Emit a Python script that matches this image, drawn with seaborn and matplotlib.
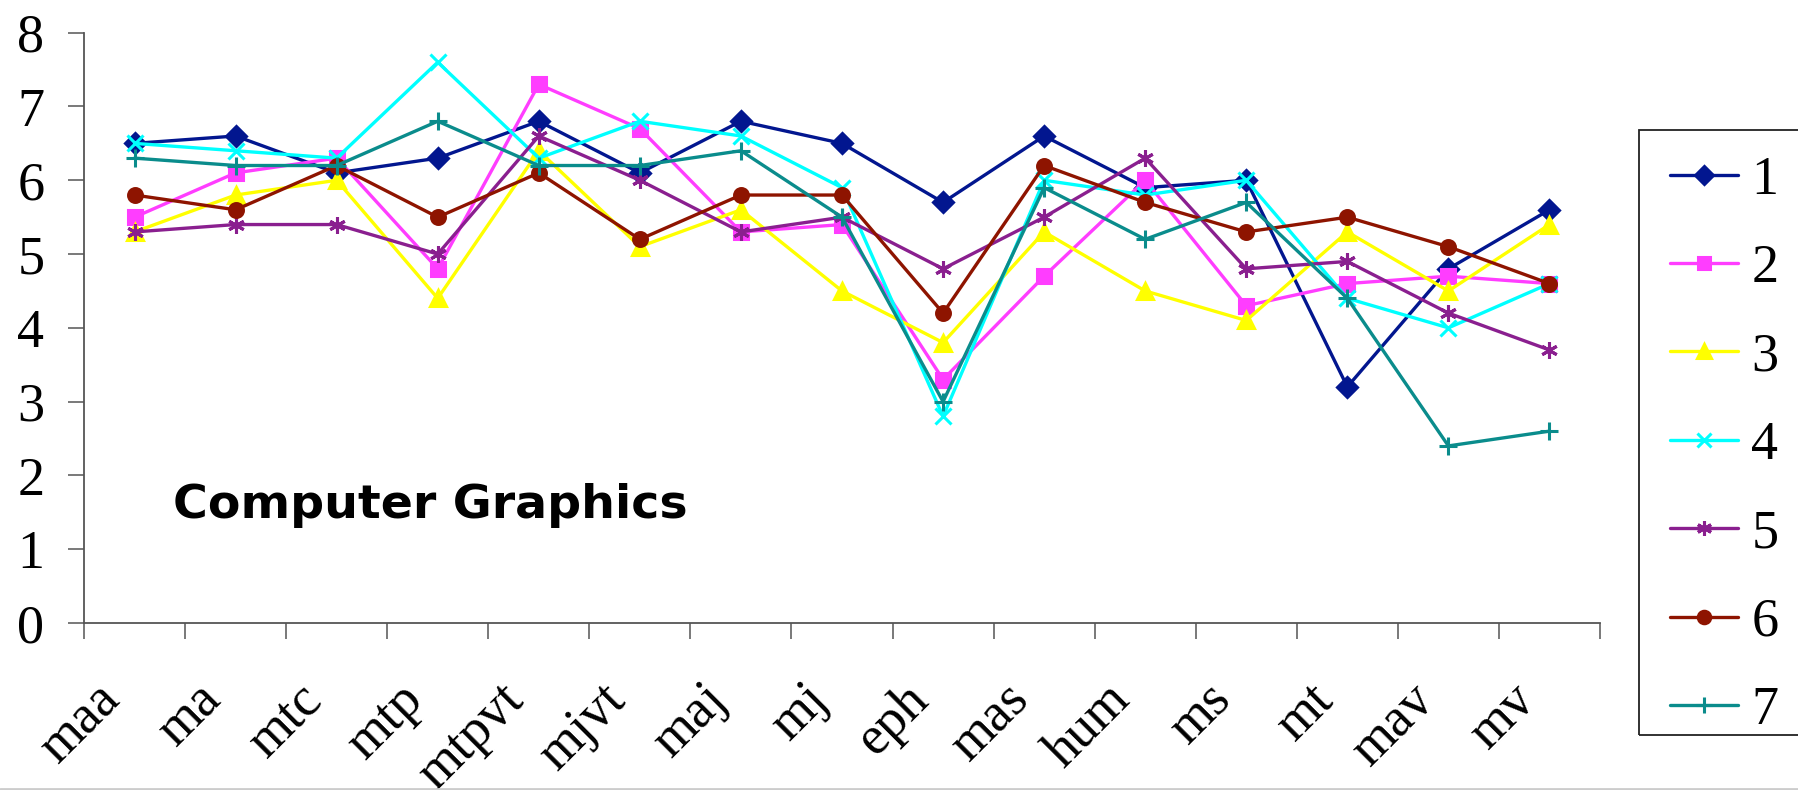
import numpy as np
import pandas as pd
import matplotlib
matplotlib.use("Agg")
import matplotlib.pyplot as plt
import matplotlib.transforms as mtransforms
from matplotlib.patches import Rectangle
from matplotlib.lines import Line2D
import seaborn as sns

# Categories along the x axis
categories = ["maa", "ma", "mtc", "mtp", "mtpvt", "mjvt", "maj", "mj",
              "eph", "mas", "hum", "ms", "mt", "mav", "mv"]

# Scores of each group per category
s1 = [6.5, 6.6, 6.1, 6.3, 6.8, 6.1, 6.8, 6.5, 5.7, 6.6, 5.9, 6.0, 3.2, 4.8, 5.6]
s2 = [5.5, 6.1, 6.3, 4.8, 7.3, 6.7, 5.3, 5.4, 3.3, 4.7, 6.0, 4.3, 4.6, 4.7, 4.6]
s3 = [5.3, 5.8, 6.0, 4.4, 6.4, 5.1, 5.6, 4.5, 3.8, 5.3, 4.5, 4.1, 5.3, 4.5, 5.4]
s4 = [6.5, 6.4, 6.3, 7.6, 6.3, 6.8, 6.6, 5.9, 2.8, 6.0, 5.8, 6.0, 4.4, 4.0, 4.6]
s5 = [5.3, 5.4, 5.4, 5.0, 6.6, 6.0, 5.3, 5.5, 4.8, 5.5, 6.3, 4.8, 4.9, 4.2, 3.7]
s6 = [5.8, 5.6, 6.2, 5.5, 6.1, 5.2, 5.8, 5.8, 4.2, 6.2, 5.7, 5.3, 5.5, 5.1, 4.6]
s7 = [6.3, 6.2, 6.2, 6.8, 6.2, 6.2, 6.4, 5.5, 3.0, 5.9, 5.2, 5.7, 4.4, 2.4, 2.6]

series_names = ["1", "2", "3", "4", "5", "6", "7"]
series_values = [s1, s2, s3, s4, s5, s6, s7]

yticks = [0, 1, 2, 3, 4, 5, 6, 7, 8]
title_text = "Computer Graphics"

colors = ["#02168F", "#FF3DFF", "#FFFF00", "#00FFFF", "#8A1F8F", "#8E1400", "#0A8C8C"]
markers = ["D", "s", "^", "x", (6, 2, 0), "o", "+"]
marker_sizes = [10, 10, 11, 11.5, 12, 10, 12.5]

rows = []
for name, vals in zip(series_names, series_values):
    for cat, v in zip(categories, vals):
        rows.append({"category": cat, "group": name, "score": v})
df = pd.DataFrame(rows)

sns.set_theme(style="white")
plt.rcParams["font.family"] = ["Liberation Serif", "DejaVu Serif"]
plt.rcParams["text.color"] = "black"
plt.rcParams["xtick.labelcolor"] = "black"
plt.rcParams["ytick.labelcolor"] = "black"

W, H = 1799, 790
fig = plt.figure(figsize=(W / 100, H / 100), dpi=100)
ax = fig.add_axes([84 / W, 1 - 623 / H, (1600 - 84) / W, (623 - 32.7) / H])

sns.lineplot(
    data=df, x="category", y="score", hue="group",
    palette=dict(zip(series_names, colors)),
    sort=False, linewidth=2.4, ax=ax, legend=False,
)

lines = ax.lines[:len(series_names)]
for ln, c, m, ms in zip(lines, colors, markers, marker_sizes):
    ln.set_marker(m)
    ln.set_markeredgecolor(c)
    ln.set_markerfacecolor(c)
    ln.set_markersize(ms)
    ln.set_markeredgewidth(2.2)
    ln.set_clip_on(False)

ax.set_xlim(-0.5, len(categories) - 0.5)
ax.set_ylim(0, 8)
ax.set_xlabel("")
ax.set_ylabel("")

# y axis
ax.set_yticks(yticks)
ax.set_yticklabels([str(t) for t in yticks])
ax.tick_params(axis="y", which="major", direction="out", length=11.5, width=1.1,
               color="#555555", labelcolor="black", labelsize=39, pad=17, left=True)

# x axis: tick marks at category boundaries, labels at category centres
ax.set_xticks(np.arange(len(categories)))
ax.set_xticklabels(categories, rotation=45, ha="right", va="center",
                   rotation_mode="anchor")
ax.set_xticks(np.arange(len(categories) + 1) - 0.5, minor=True)
ax.tick_params(axis="x", which="major", length=0, labelsize=39, labelcolor="black", pad=0)
ax.tick_params(axis="x", which="minor", direction="out", length=11.5, width=1.1,
               color="#555555", bottom=True)
offset = mtransforms.ScaledTranslation(-22 / 100, -69 / 100, fig.dpi_scale_trans)
for lab in ax.get_xticklabels():
    lab.set_transform(lab.get_transform() + offset)

for side in ["top", "right"]:
    ax.spines[side].set_visible(False)
for side in ["left", "bottom"]:
    ax.spines[side].set_color("#555555")
    ax.spines[side].set_linewidth(1.3)
ax.grid(False)

fig.text(173 / W, 1 - 518 / H, title_text, fontsize=34.2, fontweight="bold",
         family=["DejaVu Sans"], color="black", va="baseline", ha="left")

# Legend with an open-ended box
fig.add_artist(Rectangle((1639 / W, 1 - 735 / H), 300 / W, (735 - 130) / H,
                         transform=fig.transFigure, fill=False,
                         edgecolor="#222222", linewidth=1.3))
fig.legend(lines, series_names, loc="upper left",
           bbox_to_anchor=(1670 / W, 1 - 155 / H), frameon=False,
           fontsize=39, handlelength=1.25, handletextpad=0.25,
           labelspacing=0.70, borderpad=0, borderaxespad=0, markerscale=0.9)

fig.add_artist(Line2D([0, 1], [1.5 / H, 1.5 / H], transform=fig.transFigure,
                      color="#cccccc", linewidth=2))

fig.savefig("out.png", dpi=100)
